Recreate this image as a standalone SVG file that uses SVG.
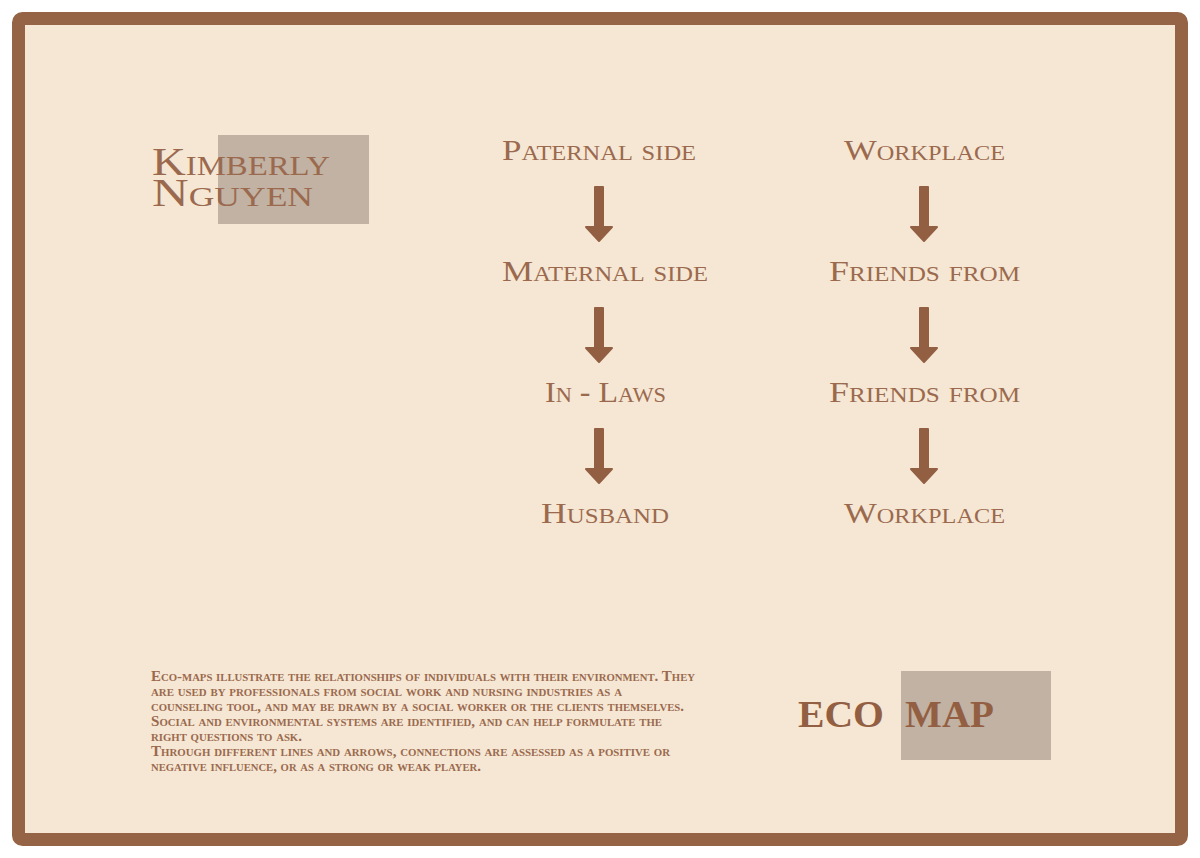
<svg xmlns="http://www.w3.org/2000/svg" width="1200" height="858" viewBox="0 0 1200 858">
<defs>
<style>
.lbl{font-family:"Liberation Serif",serif;font-variant:small-caps;font-size:30px;fill:#9b6a4e;text-anchor:middle}
.name{font-family:"Liberation Serif",serif;font-variant:small-caps;font-size:40px;fill:#9b6a4e}
.desc{font-family:"Liberation Serif",serif;font-variant:small-caps;font-size:14px;font-weight:bold;fill:#9b6a4e}
.eco{font-family:"Liberation Serif",serif;font-size:38px;font-weight:bold;fill:#935f43}
.box{fill:#c1b2a3}
.arr{fill:#935f43}
</style>
<path id="ar" d="M-4,0 H4 V40 H13 L0,54 L-13,40 H-4 Z" stroke="#935f43" stroke-width="2" stroke-linejoin="round"/>
</defs>
<rect x="0" y="0" width="1200" height="858" fill="#ffffff"/>
<rect x="18.5" y="18.5" width="1163" height="821" rx="4" fill="#f5e7d4" stroke="#956446" stroke-width="13"/>
<g id="title">
<rect class="box" x="218" y="135" width="151" height="89"/>
<text class="name" x="152" y="175" textLength="178" lengthAdjust="spacingAndGlyphs">Kimberly</text>
<text class="name" x="152" y="206" textLength="161" lengthAdjust="spacingAndGlyphs">Nguyen</text>
</g>
<g id="n-paternal"><text class="lbl" x="599" y="160" textLength="194" lengthAdjust="spacingAndGlyphs">Paternal side</text></g>
<g id="n-maternal"><text class="lbl" x="605" y="281" textLength="206" lengthAdjust="spacingAndGlyphs">Maternal side</text></g>
<g id="n-inlaws"><text class="lbl" x="605.5" y="402" textLength="121" lengthAdjust="spacingAndGlyphs">In - Laws</text></g>
<g id="n-husband"><text class="lbl" x="605" y="523" textLength="128" lengthAdjust="spacingAndGlyphs">Husband</text></g>
<g id="n-workplace1"><text class="lbl" x="924.5" y="160" textLength="161" lengthAdjust="spacingAndGlyphs">Workplace</text></g>
<g id="n-friends1"><text class="lbl" x="924.5" y="281" textLength="191" lengthAdjust="spacingAndGlyphs">Friends from</text></g>
<g id="n-friends2"><text class="lbl" x="924.5" y="402" textLength="191" lengthAdjust="spacingAndGlyphs">Friends from</text></g>
<g id="n-workplace2"><text class="lbl" x="924.5" y="523" textLength="161" lengthAdjust="spacingAndGlyphs">Workplace</text></g>
<g id="connectors" class="arr">
<use href="#ar" x="599" y="187"/>
<use href="#ar" x="599" y="308"/>
<use href="#ar" x="599" y="429"/>
<use href="#ar" x="924" y="187"/>
<use href="#ar" x="924" y="308"/>
<use href="#ar" x="924" y="429"/>
</g>
<g id="description">
<text class="desc" x="151" y="681" textLength="544" lengthAdjust="spacingAndGlyphs">Eco-maps illustrate the relationships of individuals with their environment. They</text>
<text class="desc" x="151" y="696" textLength="471" lengthAdjust="spacingAndGlyphs">are used by professionals from social work and nursing industries as a</text>
<text class="desc" x="151" y="711" textLength="533" lengthAdjust="spacingAndGlyphs">counseling tool, and may be drawn by a social worker or the clients themselves.</text>
<text class="desc" x="151" y="726" textLength="511" lengthAdjust="spacingAndGlyphs">Social and environmental systems are identified, and can help formulate the</text>
<text class="desc" x="151" y="741" textLength="151" lengthAdjust="spacingAndGlyphs">right questions to ask.</text>
<text class="desc" x="151" y="756" textLength="519" lengthAdjust="spacingAndGlyphs">Through different lines and arrows, connections are assessed as a positive or</text>
<text class="desc" x="151" y="771" textLength="330" lengthAdjust="spacingAndGlyphs">negative influence, or as a strong or weak player.</text>
</g>
<g id="ecomap">
<rect class="box" x="901" y="671" width="150" height="89"/>
<text class="eco" x="798" y="727" textLength="86" lengthAdjust="spacingAndGlyphs">ECO</text>
<text class="eco" x="905" y="727" textLength="89" lengthAdjust="spacingAndGlyphs">MAP</text>
</g>
</svg>
